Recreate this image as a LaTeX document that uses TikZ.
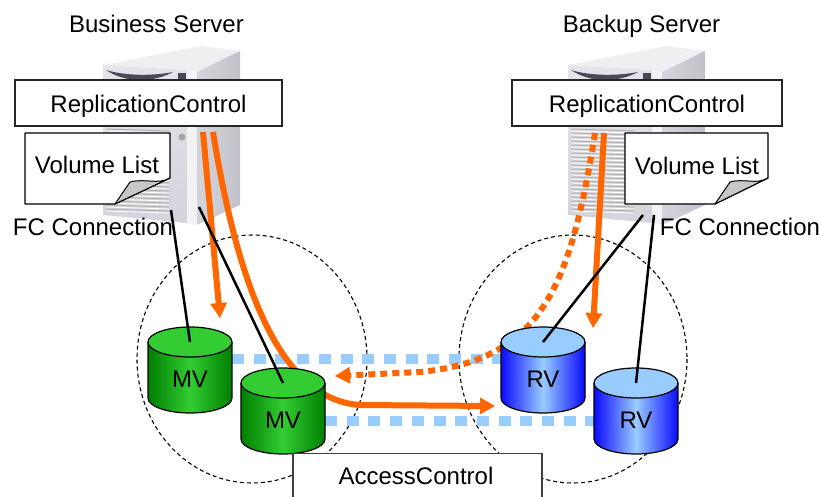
\documentclass[tikz,border=0pt]{standalone}
\usepackage{fontspec}
\setmainfont{Liberation Sans}
\usetikzlibrary{arrows.meta}

\definecolor{flowor}{HTML}{FF6600}
\definecolor{mirrorblue}{HTML}{99CCFF}
\definecolor{mvlight}{HTML}{33CC33}
\definecolor{mvdark}{HTML}{007F00}
\definecolor{rvlight}{HTML}{99CCFF}
\definecolor{rvdark}{HTML}{0A0AFF}
\definecolor{casetop}{HTML}{EFEFF2}
\definecolor{casefront}{HTML}{E4E4EA}
\definecolor{casefrontlow}{HTML}{D4D4DC}
\definecolor{caseside}{HTML}{C2C2CC}
\definecolor{caseedge}{HTML}{F3F3F5}
\definecolor{bezel}{HTML}{4A4A56}

% a disk volume: name, centre x, top y, side colour, light colour, label
\newcommand\drum[6]{%
  \coordinate (#1-top) at (#2,#3);
  \path[left color=#4,right color=#4,middle color=#5]
    (#2-42,#3) -- (#2-42,#3+56)
    arc[start angle=180,end angle=0,x radius=42,y radius=15]
    -- (#2+42,#3) -- cycle;
  \draw[drumline] (#2-42,#3) -- (#2-42,#3+56)
    arc[start angle=180,end angle=0,x radius=42,y radius=15]
    -- (#2+42,#3);
  \draw[drumline,fill=#5] (#2,#3) ellipse[x radius=42,y radius=15];
  \node[txt] (#1) at (#2,#3+45) {#6};
}

\tikzset{
  servertower/.pic={
    \fill[casetop] (0,20) -- (98,1) -- (137,6) -- (94,27) -- (84,25) -- cycle;
    \shade[top color=casefront,bottom color=casefrontlow]
      (0,20) -- (84,25) -- (84,178) -- (0,170) -- cycle;
    \fill[caseedge] (84,25) -- (94,27) -- (94,180) -- (84,178) -- cycle;
    \shade[left color=caseside!70!white,right color=caseside]
      (94,27) -- (137,6) -- (137,160) -- (94,180) -- cycle;
    \fill[bezel] (3,25) .. controls (22,38) and (50,38) .. (70,27)
      .. controls (50,31) and (22,31) .. (3,25) -- cycle;
    \fill[bezel] (75,28) rectangle (83,38);
    \foreach \v in {84,88,...,166} {
      \draw[black!30,line width=1pt] (3,\v) -- (66,\v+2);
      \draw[white,line width=0.8pt] (3,\v+2) -- (66,\v+4);
    }
    \fill[black!35] (79,92) circle[radius=3.5];
  }
}

\begin{document}
\begin{tikzpicture}[x=1pt,y=-1pt,
  every node/.style={font=\fontsize{24}{28}\selectfont},
  txt/.style={anchor=base,inner sep=0pt},
  ctrlbox/.style={draw=black!85,line width=1.3pt,fill=white,inner sep=0pt,
    text height=18pt,text depth=0pt},
  notebody/.style={draw=black,line width=1.2pt,fill=white,line join=round},
  notecurl/.style={draw=black,line width=1pt,fill=black!22,line join=round},
  zonering/.style={draw=black,line width=1.1pt,dash pattern=on 4pt off 3pt},
  mirrorline/.style={draw=mirrorblue,line width=10pt,dash pattern=on 12pt off 9.7pt},
  flowarrow/.style={draw=flowor,line width=6pt,
    -{Triangle[length=15pt,width=17pt,line width=0pt]}},
  flowdotted/.style={flowarrow,dash pattern=on 7pt off 5pt},
  fcline/.style={draw=black,line width=2.5pt},
  drumline/.style={draw=black,line width=1.2pt},
]
\useasboundingbox (0,0) rectangle (822,496);
\clip (0,0) rectangle (822,496);

% servers
\pic (srvA) at (103,45) {servertower};
\pic (srvB) at (568,45) {servertower};
\node[txt] (bizname) at (156.5,32) {Business Server};
\node[txt] (bkpname) at (641.5,32) {Backup Server};

% software on the servers
\node[ctrlbox,minimum width=267pt,minimum height=46pt] (rcA) at (148.5,103) {ReplicationControl};
\node[ctrlbox,minimum width=270pt,minimum height=46pt] (rcB) at (647,103) {ReplicationControl};

% volume list notes
\path[notebody] (25,133) -- (170,133) -- (170,178) -- (115,204) -- (25,204) -- cycle;
\path[notecurl] (170,178) .. controls (158,185) and (145,178) .. (130,182) -- (115,204) -- cycle;
\node[txt] (volA) at (97,173) {Volume List};
\path[notebody] (625,133) -- (768,133) -- (768,178) -- (715,204) -- (625,204) -- cycle;
\path[notecurl] (768,178) .. controls (757,185) and (743,178) .. (730,182) -- (715,204) -- cycle;
\node[txt] (volB) at (697,174) {Volume List};

\node[txt] (fcA) at (93,235) {FC Connection};
\node[txt] (fcB) at (740,235) {FC Connection};

% storage groups
\draw[zonering] (252,359) ellipse[x radius=115,y radius=124];
\draw[zonering] (573,359) ellipse[x radius=114,y radius=124];

% copy pairs
\coordinate (pairAw) at (232,359);
\coordinate (pairAe) at (501,359);
\coordinate (pairBw) at (325,421);
\coordinate (pairBe) at (594,421);
\draw[mirrorline] (pairAw) -- (pairAe);
\draw[mirrorline] (pairBw) -- (pairBe);

% replication flows
\coordinate (fA1) at (203,132);
\coordinate (fA1end) at (220,318);
\draw[flowarrow] (fA1) -- (fA1end);
\coordinate (fA2) at (213,132);
\coordinate (fA2end) at (495,406);
\draw[flowarrow] (fA2) .. controls (240,300) and (285,400) .. (360,405) -- (fA2end);
\coordinate (fB1) at (595,133);
\coordinate (fB1end) at (335,376);
\draw[flowdotted] (fB1) .. controls (570,290) and (540,360) .. (420,372) -- (fB1end);
\coordinate (fB2) at (604,133);
\coordinate (fB2end) at (593,328);
\draw[flowarrow] (fB2) -- (fB2end);

% volumes
\drum{mvA}{190}{342}{mvdark}{mvlight}{MV}
\drum{mvB}{283}{383}{mvdark}{mvlight}{MV}
\drum{rvA}{543}{342}{rvdark}{rvlight}{RV}
\drum{rvB}{636}{383}{rvdark}{rvlight}{RV}

% fibre channel links
\coordinate (fcA1) at (171,210);
\coordinate (fcA2) at (199,207);
\coordinate (fcB1) at (643,215);
\coordinate (fcB2) at (654,215);
\draw[fcline] (fcA1) -- (mvA-top);
\draw[fcline] (fcA2) -- (mvB-top);
\draw[fcline] (fcB1) -- (rvA-top);
\draw[fcline] (fcB2) -- (rvB-top);

% storage side control
\node[draw=black!75,line width=1.3pt,fill=white,minimum width=249pt,
  minimum height=70pt,anchor=north,inner sep=0pt] (acbox) at (417.5,453) {};
\node[txt] (actext) at (416,484) {AccessControl};
\end{tikzpicture}
\end{document}
